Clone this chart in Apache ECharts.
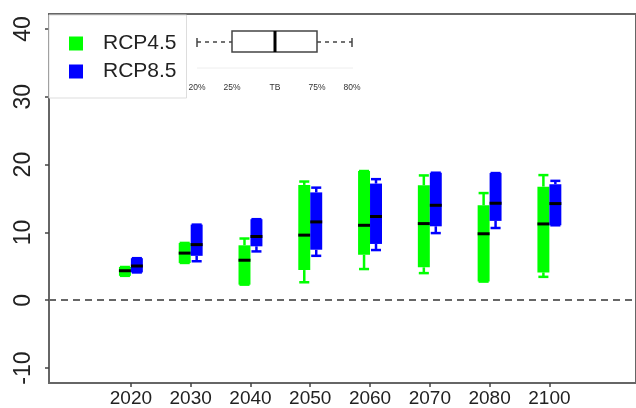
<!DOCTYPE html>
<html>
<head>
<meta charset="utf-8">
<script src="https://cdn.jsdelivr.net/npm/echarts@6/dist/echarts.min.js"></script>
<style>
  html, body { margin: 0; padding: 0; background: #fff; }
  #chart { width: 636px; height: 408px; }
</style>
</head>
<body>
<div id="chart"></div>
<script>
  // ---- Data ----
  const years = ["2020", "2030", "2040", "2050", "2060", "2070", "2080", "2100"];
  const yTicks = [-10, 0, 10, 20, 30, 40];
  const keyLabels = ["20%", "25%", "TB", "75%", "80%"];

  // [low whisker, Q1, median, Q3, high whisker]
  const rcp45 = [
    [3.6, 3.6, 4.35, 4.9, 4.9],
    [5.5, 5.5, 6.95, 8.45, 8.45],
    [2.3, 2.3, 5.9, 8.1, 9.1],
    [2.65, 4.45, 9.6, 17.0, 17.5],
    [4.6, 6.7, 11.05, 19.05, 19.05],
    [4.0, 4.85, 11.3, 16.95, 18.4],
    [2.75, 2.75, 9.8, 14.0, 15.8],
    [3.45, 4.1, 11.25, 16.75, 18.45]
  ];
  const rcp85 = [
    [4.1, 4.1, 5.05, 6.2, 6.2],
    [5.75, 6.55, 8.2, 11.15, 11.15],
    [7.2, 7.95, 9.4, 11.95, 11.95],
    [6.55, 7.45, 11.55, 15.9, 16.6],
    [7.4, 8.3, 12.35, 17.2, 17.85],
    [9.9, 10.9, 14.0, 18.8, 18.8],
    [10.65, 11.7, 14.3, 18.75, 18.75],
    [11.05, 11.05, 14.25, 17.1, 17.6]
  ];

  const FONT = "Liberation Sans, Arial, sans-serif";
  const BOX_W = 0.2; // box width in axis units

  function toItems(rows) {
    return rows.map((r, i) => [i + 1].concat(r));
  }

  // side: -1 => box left of the tick, +1 => right of the tick
  function makeRender(side) {
    return function (params, api) {
      const x = api.value(0);
      const lo = api.coord([x, api.value(1)]);
      const q1 = api.coord([x, api.value(2)]);
      const md = api.coord([x, api.value(3)]);
      const q3 = api.coord([x, api.value(4)]);
      const hi = api.coord([x, api.value(5)]);
      const w = api.size([BOX_W, 0])[0];
      const x0 = side < 0 ? lo[0] - w : lo[0];
      const cx = x0 + w / 2;
      const color = api.visual("color");
      const capHalf = w * 0.42;
      const ln = { stroke: color, lineWidth: 2.5 };
      const kids = [
        { type: "line", shape: { x1: cx, y1: q1[1], x2: cx, y2: lo[1] }, style: ln },
        { type: "line", shape: { x1: cx, y1: q3[1], x2: cx, y2: hi[1] }, style: ln },
        { type: "line", shape: { x1: cx - capHalf, y1: lo[1], x2: cx + capHalf, y2: lo[1] }, style: ln },
        { type: "line", shape: { x1: cx - capHalf, y1: hi[1], x2: cx + capHalf, y2: hi[1] }, style: ln },
        { type: "rect", shape: { x: x0, y: q3[1], width: w, height: q1[1] - q3[1] }, style: { fill: color } },
        { type: "line", shape: { x1: x0, y1: md[1], x2: x0 + w, y2: md[1] }, style: { stroke: "#000", lineWidth: 3 } }
      ];
      return { type: "group", children: kids };
    };
  }

  // ---- Inset key (box plot explanation) ----
  const keyX = [197, 232, 275, 317, 352];
  const keyGraphic = [
    { type: "line", shape: { x1: keyX[0], y1: 42, x2: keyX[1], y2: 42 }, style: { stroke: "#444", lineWidth: 1.5, lineDash: [4, 4] } },
    { type: "line", shape: { x1: keyX[3], y1: 42, x2: keyX[4], y2: 42 }, style: { stroke: "#444", lineWidth: 1.5, lineDash: [4, 4] } },
    { type: "line", shape: { x1: keyX[0], y1: 38, x2: keyX[0], y2: 47 }, style: { stroke: "#444", lineWidth: 1.5 } },
    { type: "line", shape: { x1: keyX[4], y1: 38, x2: keyX[4], y2: 47 }, style: { stroke: "#444", lineWidth: 1.5 } },
    { type: "rect", shape: { x: keyX[1], y: 31, width: keyX[3] - keyX[1], height: 21 }, style: { fill: "#fff", stroke: "#444", lineWidth: 1.5 } },
    { type: "line", shape: { x1: keyX[2], y1: 31, x2: keyX[2], y2: 52 }, style: { stroke: "#000", lineWidth: 3 } },
    { type: "line", shape: { x1: 197, y1: 68, x2: 353, y2: 68 }, style: { stroke: "#eee", lineWidth: 1 } }
  ].concat(keyLabels.map((t, i) => ({
    type: "text",
    x: keyX[i], y: 88,
    style: { text: t, fill: "#333", font: "8.5px " + FONT, align: "center", verticalAlign: "middle" }
  })));

  const chart = echarts.init(document.getElementById("chart"));
  chart.setOption({
    animation: false,
    backgroundColor: "#fff",
    grid: {
      left: 49, top: 14, bottom: 24, right: -10,
      show: true, borderColor: "#666", borderWidth: 2, backgroundColor: "transparent"
    },
    legend: {
      left: 49, top: 15,
      orient: "vertical",
      icon: "rect",
      itemWidth: 14, itemHeight: 14, itemGap: 7,
      padding: [18, 10, 16, 20],
      backgroundColor: "#fff",
      borderColor: "#ddd", borderWidth: 1,
      textStyle: { fontSize: 21, color: "#222", fontFamily: FONT, padding: [0, 0, 0, 15] },
      data: ["RCP4.5", "RCP8.5"]
    },
    xAxis: {
      type: "value",
      min: -0.37, max: 9.449,
      splitLine: { show: false },
      axisLine: { show: false, onZero: false },
      axisTick: { show: true, length: 4, customValues: years.map((_, i) => i + 1), lineStyle: { color: "#444", width: 1.5 } },
      axisLabel: {
        customValues: years.map((_, i) => i + 1),
        formatter: v => years[Math.round(v) - 1] || "",
        fontSize: 19, color: "#222", fontFamily: FONT, margin: 6
      }
    },
    yAxis: {
      type: "value",
      min: -12.2, max: 42.2,
      splitLine: { show: false },
      axisLine: { show: false, onZero: false },
      axisTick: { show: true, length: 4, customValues: yTicks, lineStyle: { color: "#444", width: 1.5 } },
      axisLabel: {
        customValues: yTicks,
        rotate: 90,
        fontSize: 23, color: "#222", fontFamily: FONT, margin: 14
      }
    },
    graphic: keyGraphic,
    series: [
      {
        name: "RCP4.5",
        type: "custom",
        itemStyle: { color: "#00ff00" },
        renderItem: makeRender(-1),
        encode: { x: 0, y: [1, 2, 3, 4, 5] },
        data: toItems(rcp45),
        markLine: {
          silent: true, symbol: "none", label: { show: false },
          lineStyle: { color: "#666", width: 2, type: [7, 5] },
          data: [{ yAxis: 0 }]
        }
      },
      {
        name: "RCP8.5",
        type: "custom",
        itemStyle: { color: "#0000ff" },
        renderItem: makeRender(1),
        encode: { x: 0, y: [1, 2, 3, 4, 5] },
        data: toItems(rcp85)
      }
    ]
  });
</script>
</body>
</html>
